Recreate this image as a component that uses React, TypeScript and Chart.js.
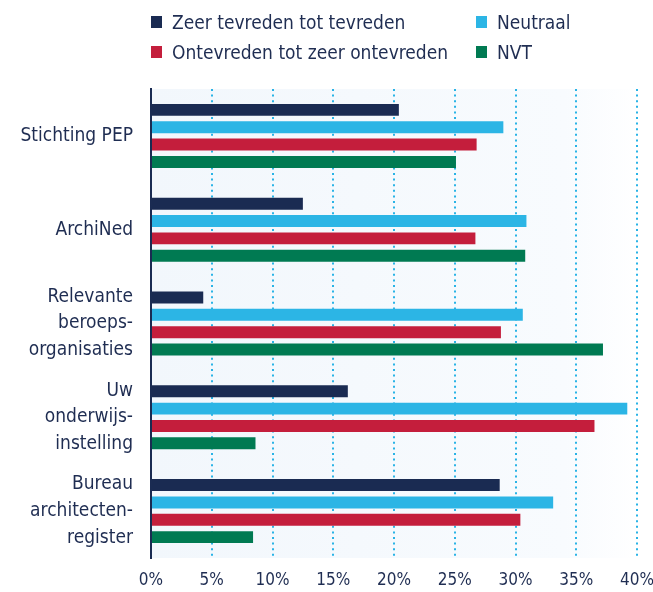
import React, { useEffect, useRef } from "react";
import { Chart, registerables } from "chart.js";

Chart.register(...registerables);

const categories: string[][] = [
  ["Stichting PEP"],
  ["ArchiNed"],
  ["Relevante", "beroeps-", "organisaties"],
  ["Uw", "onderwijs-", "instelling"],
  ["Bureau", "architecten-", "register"],
];

const seriesNames = [
  "Zeer tevreden tot tevreden",
  "Neutraal",
  "Ontevreden tot zeer ontevreden",
  "NVT",
];

const tevreden = [20.4, 12.5, 4.3, 16.2, 28.7];
const neutraal = [29.0, 30.9, 30.6, 39.2, 33.1];
const ontevreden = [26.8, 26.7, 28.8, 36.5, 30.4];
const nvt = [25.1, 30.8, 37.2, 8.6, 8.4];

const xTicks = [0, 5, 10, 15, 20, 25, 30, 35, 40];

const colors = ["#1a2b52", "#2cb5e5", "#c41e3c", "#007a52"];
const textColor = "#1f2d52";
const FONT = "'Liberation Sans Narrow', 'DejaVu Sans Condensed', 'Roboto', sans-serif";

const bgPlugin = {
  id: "plotBg",
  beforeDraw(chart: any) {
    const { ctx, chartArea } = chart;
    if (!chartArea) return;
    ctx.save();
    const g = ctx.createLinearGradient(chartArea.left, 0, chartArea.right, 0);
    g.addColorStop(0, "#f2f7fc");
    g.addColorStop(0.85, "#f8fbfe");
    g.addColorStop(1, "#ffffff");
    ctx.fillStyle = g;
    ctx.fillRect(chartArea.left, chartArea.top, chartArea.right - chartArea.left, chartArea.bottom - chartArea.top);
    ctx.restore();
  },
};

export default function App() {
  const ref = useRef<HTMLCanvasElement | null>(null);

  useEffect(() => {
    if (!ref.current) return;
    const data = [tevreden, neutraal, ontevreden, nvt];
    const chart = new Chart(ref.current, {
      type: "bar",
      data: {
        labels: categories as any,
        datasets: seriesNames.map((name, i) => ({
          label: name,
          data: data[i],
          backgroundColor: colors[i],
          borderWidth: 0,
          barPercentage: 0.69,
          categoryPercentage: 0.74,
        })),
      },
      options: {
        indexAxis: "y",
        animation: false,
        responsive: false,
        maintainAspectRatio: false,
        layout: { padding: { top: 89, right: 16, left: 0, bottom: 0 } },
        plugins: {
          legend: { display: false },
          tooltip: { enabled: false },
        },
        scales: {
          x: {
            min: 0,
            max: 40,
            afterBuildTicks: (scale: any) => {
              scale.ticks = xTicks.map((v) => ({ value: v }));
            },
            afterFit: (scale: any) => {
              scale.height = 34;
              scale.paddingLeft = 0;
              scale.paddingRight = 0;
            },
            border: { display: false, dash: [2, 3.6] },
            grid: {
              drawTicks: false,
              lineWidth: 2,
              color: (c: any) => (c.tick && c.tick.value === 0 ? "rgba(0,0,0,0)" : "#29b3e6"),
            },
            ticks: {
              padding: 12,
              color: textColor,
              font: { family: FONT, size: 17 },
              callback: (v: any) => v + "%",
            },
          } as any,
          y: {
            afterFit: (scale: any) => {
              scale.width = 151;
            },
            border: { display: true, color: "#1a2b52", width: 2 },
            grid: { display: false, drawTicks: false },
            ticks: {
              padding: 18,
              color: textColor,
              font: { family: FONT, size: 19, lineHeight: 1.4 },
            },
          },
        },
      },
      plugins: [bgPlugin],
    } as any);
    return () => chart.destroy();
  }, []);

  const legendItem = (i: number, left: number, top: number) => (
    <div
      key={i}
      style={{
        position: "absolute",
        left,
        top,
        display: "flex",
        alignItems: "center",
        fontFamily: FONT,
        fontSize: 19,
        color: textColor,
        whiteSpace: "nowrap",
        lineHeight: "20px",
        height: 20,
      }}
    >
      <span style={{ display: "inline-block", width: 11, height: 12, background: colors[i], marginRight: 10 }} />
      <span>{seriesNames[i]}</span>
    </div>
  );

  return (
    <div style={{ position: "absolute", left: 0, top: 0, width: 653, height: 592, background: "#fff" }}>
      <canvas ref={ref} width={653} height={592} style={{ position: "absolute", left: 0, top: 0 }} />
      {legendItem(0, 151, 12)}
      {legendItem(1, 476, 12)}
      {legendItem(2, 151, 42)}
      {legendItem(3, 476, 42)}
    </div>
  );
}
